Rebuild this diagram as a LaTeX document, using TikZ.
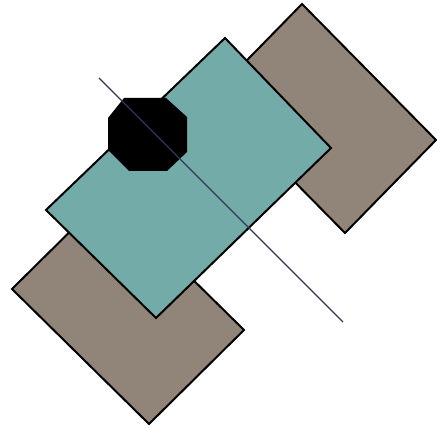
\documentclass[tikz,border=0pt]{standalone}
\definecolor{bruin}{RGB}{145,133,122}
\definecolor{groenblauw}{RGB}{115,171,168}
\definecolor{lijnblauw}{RGB}{48,56,84}
\tikzset{
    vlak/.style={draw=black, line width=2pt, line join=miter},
}
\begin{document}
\begin{tikzpicture}[x=1pt, y=-1pt]
    % Vaste afmetingen van het plaatje
    \useasboundingbox (0, 0) rectangle (437, 430);

    % Bovenste bruine rechthoek (achter)
    \filldraw[vlak, fill=bruin] (302, 4) -- (436, 140) -- (345, 233) -- (211, 97) -- cycle;

    % Onderste bruine rechthoek (achter)
    \filldraw[vlak, fill=bruin] (12, 289) -- (107, 195) -- (244, 330) -- (149, 424) -- cycle;

    % De groenblauwe rechthoek in het midden
    \filldraw[vlak, fill=groenblauw] (225, 38) -- (331, 148) -- (156, 318) -- (46, 210) -- cycle;

    % Zwarte achthoek
    \fill[black] (124, 98) -- (166, 98) -- (187, 117) -- (187, 152) -- (167, 171)
        -- (129, 171) -- (108, 150) -- (108, 118) -- cycle;

    % Dunne schuine lijn erover
    \draw[lijnblauw, line width=1.2pt] (99, 78) -- (343, 322);
\end{tikzpicture}
\end{document}
